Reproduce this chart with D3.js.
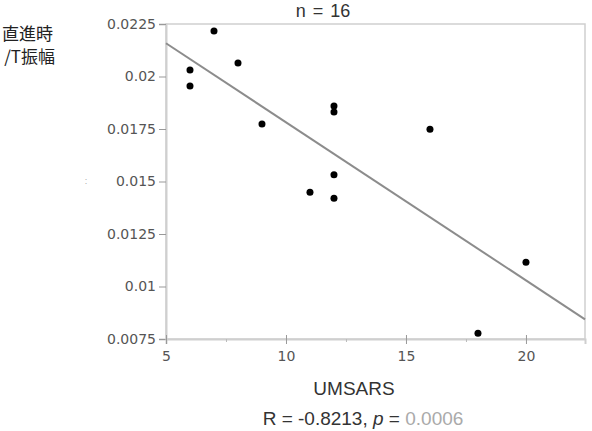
<!DOCTYPE html>
<html>
<head>
<meta charset="utf-8">
<script src="https://cdn.jsdelivr.net/npm/d3@7"></script>
<style>
  body { margin: 0; background: #fff; }
  svg { display: block; font-family: "Liberation Sans", Arial, sans-serif; }
</style>
</head>
<body>
<div id="chart"></div>
<script>
// data
var umsars = [7, 6, 6, 8, 9, 12, 12, 16, 12, 11, 12, 20, 18];
var amp    = [0.02217, 0.02031, 0.01955, 0.02064, 0.01774, 0.01860, 0.01831, 0.01749,
              0.01532, 0.01449, 0.01420, 0.01115, 0.00777];
var fitLine = [0.02535, -0.000753];   // intercept, slope
var xTicks = [5, 10, 15, 20];
var xMinor = [7.5, 12.5, 17.5];
var yTicks = [0.0075, 0.01, 0.0125, 0.015, 0.0175, 0.02, 0.0225];
var yLabels = ["0.0075", "0.01", "0.0125", "0.015", "0.0175", "0.02", "0.0225"];

scatter();

function scatter() {
  var svg = d3.select("#chart").append("svg")
      .attr("width", 592)
      .attr("height", 431);

  var margin = {top: 24, right: 7, bottom: 92, left: 166},
      width = 592 - margin.left - margin.right,
      height = 431 - margin.top - margin.bottom;

  var x = d3.scaleLinear().domain([5, 22.46]).range([0, width]),
      y = d3.scaleLinear().domain([0.0075, 0.0225]).range([height, 0]);

  var g = svg.append("g")
      .attr("transform", "translate(" + margin.left + "," + margin.top + ")");

  // frame
  g.append("rect")
    .attr("width", width).attr("height", height)
    .attr("fill", "none").attr("stroke", "#cfcfcf").attr("stroke-width", 1.5);

  // y axis
  var yAxis = g.append("g")
    .call(d3.axisLeft(y).tickValues(yTicks).tickSize(7).tickPadding(3)
      .tickFormat(function(d, i) { return yLabels[i]; }));
  yAxis.select(".domain").attr("stroke", "#cfcfcf").attr("stroke-width", 2);
  yAxis.selectAll(".tick line").attr("stroke", "#999");
  yAxis.selectAll("text").attr("fill", "#555").attr("font-size", "14px")
    .attr("font-family", "DejaVu Sans, sans-serif");

  // x axis
  var xAxis = g.append("g")
    .attr("transform", "translate(0," + height + ")")
    .call(d3.axisBottom(x).tickValues(xTicks).tickSize(5).tickPadding(7)
      .tickFormat(d3.format("d")));
  xAxis.select(".domain").attr("stroke", "#cfcfcf").attr("stroke-width", 2);
  xAxis.selectAll(".tick line").attr("stroke", "#999").attr("y1", -4);
  xAxis.selectAll("text").attr("fill", "#555").attr("font-size", "14px")
    .attr("font-family", "DejaVu Sans, sans-serif");

  g.append("g")
    .attr("transform", "translate(0," + height + ")")
    .call(d3.axisBottom(x).tickValues(xMinor).tickSize(3).tickFormat(""))
    .call(function(s) {
      s.select(".domain").remove();
      s.selectAll(".tick line").attr("stroke", "#bbb");
    });

  // regression line
  var xs = x.domain();
  g.append("line")
    .attr("x1", x(xs[0])).attr("y1", y(fitLine[0] + fitLine[1] * xs[0]))
    .attr("x2", x(xs[1])).attr("y2", y(fitLine[0] + fitLine[1] * xs[1]))
    .attr("stroke", "#8c8c8c").attr("stroke-width", 2);

  // points
  g.selectAll(".dot")
    .data(umsars)
    .enter()
    .append("circle")
    .attr("cx", function(d) { return x(d); })
    .attr("cy", function(d, i) { return y(amp[i]); })
    .attr("r", 3.5)
    .attr("fill", "#000");

  // texts
  svg.append("text")
    .attr("x", 323).attr("y", 17)
    .attr("text-anchor", "middle")
    .attr("font-size", "18px").attr("fill", "#333")
    .attr("word-spacing", "2px")
    .text("n = 16");

  svg.append("text")
    .attr("x", 354).attr("y", 395)
    .attr("text-anchor", "middle")
    .attr("font-size", "19px").attr("fill", "#333")
    .text("UMSARS");

  var stat = svg.append("text")
    .attr("x", 363).attr("y", 425)
    .attr("text-anchor", "middle")
    .attr("font-size", "19px").attr("fill", "#333");
  stat.append("tspan").text("R = -0.8213, ");
  stat.append("tspan").attr("font-style", "italic").text("p");
  stat.append("tspan").text(" = ");
  stat.append("tspan").attr("fill", "#aaa").text("0.0006");

  svg.append("text")
    .attr("x", 53).attr("y", 40)
    .attr("text-anchor", "end")
    .attr("font-size", "17px").attr("fill", "#222")
    .attr("font-family", "Noto Sans CJK JP, sans-serif")
    .text("直進時");
  svg.append("text")
    .attr("x", 55).attr("y", 63)
    .attr("text-anchor", "end")
    .attr("font-size", "17px").attr("fill", "#222")
    .attr("font-family", "Noto Sans CJK JP, sans-serif")
    .text("/T振幅");

  svg.append("text")
    .attr("x", 86).attr("y", 184)
    .attr("text-anchor", "middle")
    .attr("font-size", "9px").attr("fill", "#aaa")
    .text(":");
}
</script>
</body>
</html>
